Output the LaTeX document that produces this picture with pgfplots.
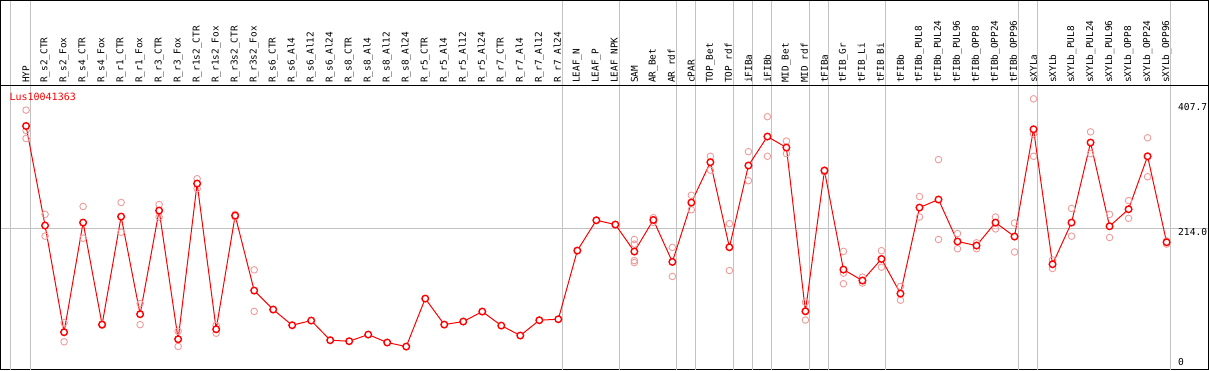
\documentclass[border=0pt]{standalone}
\usepackage{pgfplots}
\pgfplotsset{compat=1.18}
\usepackage{fontspec}
\newfontfamily\mono{DejaVu Sans Mono}
\definecolor{rep}{RGB}{240,155,155}
\definecolor{grd}{RGB}{195,195,195}
\begin{document}
\begin{tikzpicture}
\begin{axis}[
 scale only axis, width=1208pt, height=369pt,
 xmin=-1.34, xmax=62.2, ymin=0, ymax=558.8,
 axis line style={black, line width=1.2pt},
 xtick={0,...,60},
 xticklabels={HYP,R\_s2\_CTR,R\_s2\_Fox,R\_s4\_CTR,R\_s4\_Fox,R\_r1\_CTR,R\_r1\_Fox,R\_r3\_CTR,R\_r3\_Fox,R\_r1s2\_CTR,R\_r1s2\_Fox,R\_r3s2\_CTR,R\_r3s2\_Fox,R\_s6\_CTR,R\_s6\_Al4,R\_s6\_Al12,R\_s6\_Al24,R\_s8\_CTR,R\_s8\_Al4,R\_s8\_Al12,R\_s8\_Al24,R\_r5\_CTR,R\_r5\_Al4,R\_r5\_Al12,R\_r5\_Al24,R\_r7\_CTR,R\_r7\_Al4,R\_r7\_Al12,R\_r7\_Al24,LEAF\_N,LEAF\_P,LEAF\_NPK,SAM,AR\_Bet,AR\_rdf,cPAR,TOP\_Bet,TOP\_rdf,iFIBa,iFIBb,MID\_Bet,MID\_rdf,tFIBa,tFIB\_Gr,tFIB\_Li,tFIB\_Bi,tFIBb,tFIBb\_PUL8,tFIBb\_PUL24,tFIBb\_PUL96,tFIBb\_OPP8,tFIBb\_OPP24,tFIBb\_OPP96,sXYLa,sXYLb,sXYLb\_PUL8,sXYLb\_PUL24,sXYLb\_PUL96,sXYLb\_OPP8,sXYLb\_OPP24,sXYLb\_OPP96},
 major tick length=0pt,
 tick label style={overlay},
 xticklabel style={yshift=286.5pt, rotate=90, anchor=west, inner sep=0pt, font=\mono\fontsize{9.4}{10}\selectfont},
 ytick={214}, yticklabels={}, ymajorgrids, major grid style={grd, line width=1pt},
 extra x ticks={-0.8,0.22,28.22,31.22,34.22,35.22,37.22,38.22,39.22,41.22,42.22,45.22,52.22,53.22,60.2},
 extra x tick labels={},
 extra x tick style={grid=major, major grid style={grd, line width=1pt}},
 clip=false,
]
\addplot[only marks, mark=o, mark size=3.3pt, rep, line width=0.9pt] table {
x y
0 393
0 362
0 350
1 235
1 202
2 71
2 42
3 247
3 199
4 69
4 67
5 253
5 208
6 100
6 68
7 250
7 231
8 58
8 35
9 289
9 274
10 67
10 55
11 235
11 231
12 151
12 88
32 197
32 190
32 165
32 162
33 230
33 223
34 185
34 141
35 264
35 242
36 323
36 302
37 221
37 150
38 330
38 286
39 383
39 323
40 346
40 327
41 102
41 75
42 302
42 299
43 179
43 146
43 130
44 140
44 135
44 131
45 180
45 155
46 126
46 105
47 262
47 231
48 318
48 197
49 206
49 183
50 192
50 183
51 231
51 213
52 222
52 178
53 410
53 357
53 323
54 166
54 153
55 244
55 202
56 360
56 327
57 235
57 200
58 256
58 229
59 351
59 292
60 195
60 190
};
\addplot[red, line width=1pt, mark=*, mark size=3.3pt, mark options={fill=white, draw=red, line width=1.4pt}] table {
x y
0 368.9
1 218.1
2 56.5
3 222.6
4 68.1
5 231.7
6 83.8
7 240.8
8 45.9
9 281.7
10 61
11 233.2
12 119.6
13 90.9
14 67.1
15 74.2
16 44.4
17 42.9
18 53.0
19 40.9
20 34.8
21 107.5
22 68.1
23 72.7
24 87.8
25 66.6
26 51.5
27 74.7
28 76.2
29 180.2
30 226.1
31 219.6
32 178.7
33 226.6
34 163
35 252.9
36 314
37 185.2
38 309
39 352.9
40 336.2
41 88.3
42 301.4
43 151.4
44 134.8
45 167.5
46 115.1
47 245.3
48 257.5
49 193.9
50 187.8
51 222.6
52 201.4
53 363.9
54 159.5
55 222.6
56 343.8
57 217
58 242.8
59 323
60 192.8
};
\draw[black, line width=1.2pt] (rel axis cs:0,0.7702) -- (rel axis cs:1,0.7702);
\node[anchor=west, text=red, inner sep=0pt, font=\mono\fontsize{10}{11}\selectfont] at (rel axis cs:0.0073,0.7385) {Lus10041363};
\node[anchor=west, inner sep=0pt, font=\mono\fontsize{9.6}{10}\selectfont] at (axis cs:60.6,398) {407.7};
\node[anchor=west, inner sep=0pt, font=\mono\fontsize{9.6}{10}\selectfont] at (axis cs:60.6,207.8) {214.0};
\node[anchor=west, inner sep=0pt, font=\mono\fontsize{9.6}{10}\selectfont] at (axis cs:60.6,11.8) {0};
\end{axis}
\end{tikzpicture}
\end{document}
